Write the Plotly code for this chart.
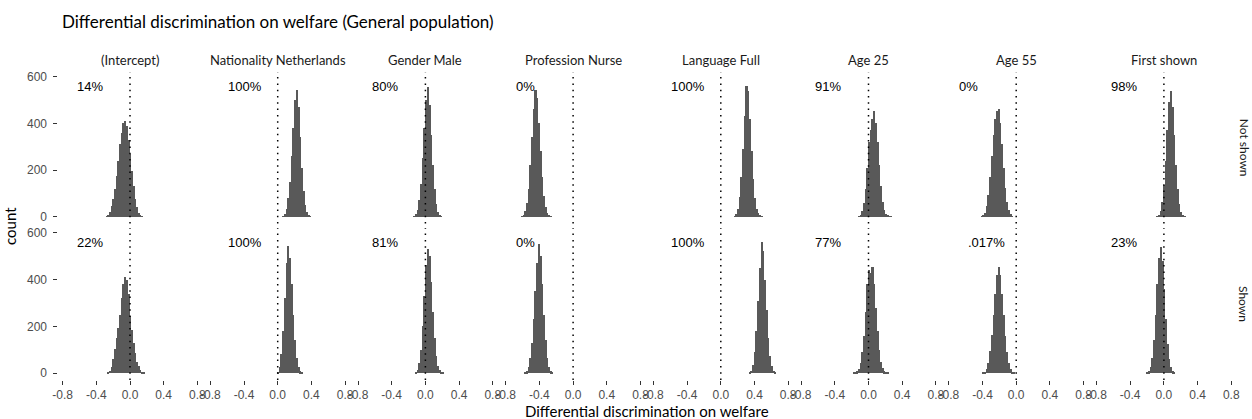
import plotly.graph_objects as go

# ---- facet labels -------------------------------------------------------
terms = ["(Intercept)", "Nationality Netherlands", "Gender Male", "Profession Nurse",
         "Language Full", "Age 25", "Age 55", "First shown"]
groups = ["Not shown", "Shown"]

# share of posterior draws above zero, per facet
pct_not_shown = ["14%", "100%", "80%", "0%", "100%", "91%", "0%", "98%"]
pct_shown = ["22%", "100%", "81%", "0%", "100%", "77%", ".017%", "23%"]

# ---- posterior histograms: first bin centre + counts per bin ------------
bin_width = 0.02

intercept_ns_from = -0.27
intercept_ns = [2, 5, 20, 45, 75, 120, 175, 240, 310, 360, 400, 410, 390, 330, 270, 195, 130, 75, 40, 18, 6, 2]
intercept_s_from = -0.25
intercept_s = [2, 10, 28, 60, 105, 150, 195, 250, 320, 380, 410, 400, 340, 245, 185, 130, 85, 50, 30, 15, 6, 2]

nationality_ns_from = 0.07
nationality_ns = [3, 12, 35, 80, 150, 260, 380, 500, 545, 470, 340, 210, 110, 50, 20, 7, 2]
nationality_s_from = 0.01
nationality_s = [3, 25, 80, 180, 320, 470, 545, 490, 380, 250, 140, 65, 25, 8, 2]

gender_ns_from = -0.13
gender_ns = [2, 10, 30, 70, 140, 250, 380, 500, 555, 480, 350, 220, 120, 55, 22, 8, 2]
gender_s_from = -0.11
gender_s = [3, 15, 45, 100, 200, 330, 460, 530, 500, 390, 260, 150, 75, 32, 12, 4, 1]

profession_ns_from = -0.61
profession_ns = [2, 8, 25, 60, 120, 220, 340, 460, 545, 510, 400, 280, 170, 90, 40, 15, 5, 1]
profession_s_from = -0.57
profession_s = [2, 8, 25, 65, 130, 230, 350, 470, 550, 500, 380, 250, 140, 65, 25, 8, 2]

language_ns_from = 0.17
language_ns = [2, 10, 35, 85, 170, 290, 430, 560, 540, 420, 280, 160, 80, 35, 14, 5, 1]
language_s_from = 0.35
language_s = [2, 10, 35, 90, 180, 310, 450, 560, 520, 400, 270, 150, 75, 30, 10, 3]

age25_ns_from = -0.11
age25_ns = [2, 8, 25, 60, 120, 210, 320, 370, 420, 455, 400, 320, 220, 130, 65, 28, 12, 5, 2, 1]
age25_s_from = -0.17
age25_s = [1, 3, 8, 20, 45, 90, 160, 260, 380, 440, 430, 455, 380, 280, 180, 100, 50, 22, 8, 3, 1]

age55_ns_from = -0.41
age55_ns = [2, 6, 18, 45, 95, 170, 260, 350, 420, 455, 460, 400, 310, 210, 125, 65, 28, 10, 3]
age55_s_from = -0.39
age55_s = [2, 6, 18, 45, 95, 165, 250, 340, 420, 455, 420, 340, 250, 160, 90, 45, 18, 6, 2]

first_ns_from = -0.07
first_ns = [2, 8, 25, 65, 135, 240, 370, 490, 540, 470, 350, 220, 120, 55, 22, 8, 2]
first_s_from = -0.19
first_s = [2, 8, 25, 65, 140, 250, 380, 490, 540, 480, 360, 230, 125, 60, 25, 8, 2]

hist_rows = [
    [(intercept_ns_from, intercept_ns), (nationality_ns_from, nationality_ns),
     (gender_ns_from, gender_ns), (profession_ns_from, profession_ns),
     (language_ns_from, language_ns), (age25_ns_from, age25_ns),
     (age55_ns_from, age55_ns), (first_ns_from, first_ns)],
    [(intercept_s_from, intercept_s), (nationality_s_from, nationality_s),
     (gender_s_from, gender_s), (profession_s_from, profession_s),
     (language_s_from, language_s), (age25_s_from, age25_s),
     (age55_s_from, age55_s), (first_s_from, first_s)],
]
pct_rows = [pct_not_shown, pct_shown]

x_tick_vals = [-0.8, -0.4, 0.0, 0.4, 0.8]
x_tick_text = ["-0.8", "-0.4", "0.0", "0.4", "0.8"]
y_tick_vals = [0, 200, 400, 600]
y_tick_text = ["0", "200", "400", "600"]

# ---- page geometry ------------------------------------------------------
W, H = 1252, 419
ML, MR, MT, MB = 58, 16, 72, 39
PW, PH = W - ML - MR, H - MT - MB
COL_STEP, COL_W = 147.7, 143.2
COL0 = 58.4
ROW_PX = [(72.0, 223.5), (228.0, 380.0)]   # top / bottom pixel of each facet row

X_RANGE = [-0.85, 0.85]
Y_RANGE = [-29, 620]

BAR = "#595959"
SANS = "Lato, 'Open Sans', sans-serif"
ARIAL = "'Liberation Sans', Arial, sans-serif"


def text_width(s, size):
    widths = {".": 0.278, "%": 0.889}
    return size * sum(widths.get(ch, 0.556) for ch in s)


fig = go.Figure()
layout = dict(
    width=W, height=H,
    margin=dict(l=ML, r=MR, t=MT, b=MB, pad=0),
    paper_bgcolor="white", plot_bgcolor="white",
    showlegend=False, barmode="overlay", bargap=0,
    title=dict(text="Differential discrimination on welfare (General population)",
               x=62 / W, xref="container", xanchor="left",
               y=1 - 22 / H, yref="container", yanchor="middle",
               font=dict(family=SANS, size=17, color="#000000")),
)
annotations, shapes = [], []

for r in range(2):
    y0px, y1px = ROW_PX[r]
    ydom = [max(0.0, (MT + PH - y1px) / PH), min(1.0, (MT + PH - y0px) / PH)]
    for c in range(8):
        k = r * 8 + c + 1
        sfx = "" if k == 1 else str(k)
        left = COL0 + COL_STEP * c
        xdom = [(left - ML) / PW, min(1.0, (left + COL_W - ML) / PW)]

        start, counts = hist_rows[r][c]
        centres = [round(start + i * bin_width, 4) for i in range(len(counts))]
        fig.add_trace(go.Bar(
            x=centres, y=counts, width=bin_width,
            marker=dict(color=BAR, line=dict(width=0)),
            xaxis="x" + sfx, yaxis="y" + sfx, hoverinfo="x+y",
        ))

        layout["xaxis" + sfx] = dict(
            domain=xdom, range=X_RANGE, anchor="y" + sfx,
            showgrid=False, zeroline=False, showline=False,
            tickvals=x_tick_vals, ticktext=x_tick_text,
            showticklabels=(r == 1), ticks="outside" if r == 1 else "",
            ticklen=4, tickwidth=1, tickcolor="#333333",
            tickfont=dict(family=ARIAL, size=12, color="#4D4D4D"),
        )
        layout["yaxis" + sfx] = dict(
            domain=ydom, range=Y_RANGE, anchor="x" + sfx,
            showgrid=False, zeroline=False, showline=False,
            tickvals=y_tick_vals, ticktext=y_tick_text,
            showticklabels=(c == 0), ticks="outside" if c == 0 else "",
            ticklen=4, tickwidth=1, tickcolor="#333333", ticklabelstandoff=4,
            tickfont=dict(family=ARIAL, size=12, color="#4D4D4D"),
        )

        # reference line at zero
        shapes.append(dict(
            type="line", xref="x" + sfx, yref="y" + sfx + " domain",
            x0=0, x1=0, y0=0, y1=1,
            line=dict(color="#000000", width=1.5, dash="1.5px,4.8px"),
        ))

        # probability label
        lab = pct_rows[r][c]
        annotations.append(dict(
            text=lab, xref="x" + sfx, yref="y" + sfx, x=-0.81, y=557,
            xanchor="left", yanchor="middle", showarrow=False,
            xshift=0.5 * text_width(lab, 13),
            font=dict(family=ARIAL, size=13, color="#000000"),
        ))

        # column strip
        if r == 0:
            annotations.append(dict(
                text=terms[c], xref="x" + sfx + " domain", yref="y" + sfx + " domain",
                x=0.5, y=1, yshift=12, xanchor="center", yanchor="middle",
                showarrow=False, font=dict(family=SANS, size=13, color="#1A1A1A"),
            ))
        # row strip
        if c == 7:
            annotations.append(dict(
                text=groups[r], xref="paper", yref="y" + sfx + " domain",
                x=1, xshift=8, y=0.5, xanchor="center", yanchor="middle",
                textangle=90, showarrow=False,
                font=dict(family=SANS, size=12, color="#1A1A1A"),
            ))

# axis titles
annotations.append(dict(
    text="Differential discrimination on welfare", xref="paper", yref="paper",
    x=0.5, y=0, yshift=-31, xanchor="center", yanchor="middle", showarrow=False,
    font=dict(family=SANS, size=15, color="#000000"),
))
annotations.append(dict(
    text="count", xref="paper", yref="paper",
    x=0, xshift=-48, y=0.5, xanchor="center", yanchor="middle", textangle=-90,
    showarrow=False, font=dict(family=SANS, size=15, color="#000000"),
))

layout["annotations"] = annotations
layout["shapes"] = shapes
fig.update_layout(**layout)

fig.write_html("out.html")
